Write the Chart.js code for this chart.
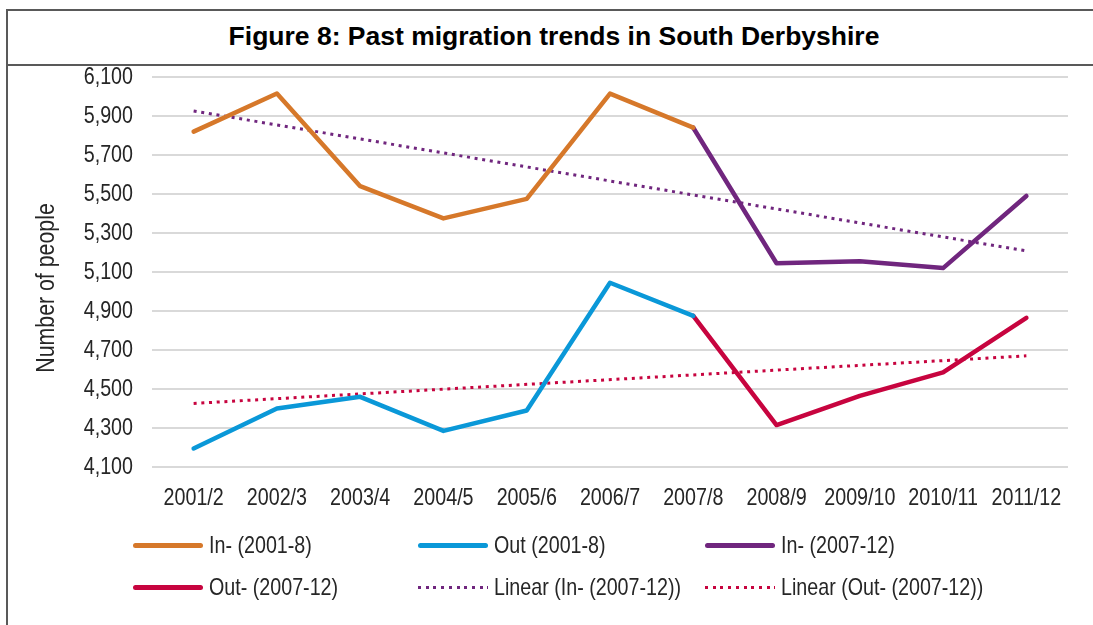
<!DOCTYPE html>
<html>
<head>
<meta charset="utf-8">
<script src="https://cdn.jsdelivr.net/npm/chart.js@4/dist/chart.umd.min.js"></script>
<style>
  body { margin: 0; background: #fff; width: 1093px; height: 625px; overflow: hidden; position: relative; }
  #frame { position: absolute; left: 6px; top: 9px; width: 1096px; height: 700px; border: 2px solid #595959; box-sizing: border-box; }
  #titlebar { position: absolute; left: 0; top: 0; width: 100%; height: 55px; border-bottom: 2px solid #595959; box-sizing: border-box; }
  #title { position: absolute; left: 6px; width: 1096px; top: 21px; line-height: 30px; text-align: center;
           font: bold 26.5px "Liberation Sans", Arial, sans-serif; color: #000; white-space: nowrap; }
  #wrap { position: absolute; left: 0; top: 0; width: 1093px; height: 625px; }
  .leg { position: absolute; height: 30px; display: flex; align-items: center; white-space: nowrap; }
  .leg .sw { width: 70px; margin-right: 6px; flex: none; }
  .leg span { display: inline-block; transform: scaleX(0.82); transform-origin: left center;
              font: 24px "Liberation Sans", Arial, sans-serif; color: #262626; line-height: 30px; }
</style>
</head>
<body>
<div id="frame"><div id="titlebar"></div></div>
<div id="title">Figure 8: Past migration trends in South Derbyshire</div>
<div id="wrap"><canvas id="chart" width="1093" height="625"></canvas></div>
<div id="legend"></div>
<script>
// Kategorier (år)
const years = ['2001/2', '2002/3', '2003/4', '2004/5', '2005/6', '2006/7', '2007/8', '2008/9', '2009/10', '2010/11', '2011/12'];

// Inflyttning / utflyttning
const inEarly  = [5820, 6015, 5540, 5375, 5475, 6015, 5840, null, null, null, null];
const outEarly = [4195, 4400, 4460, 4285, 4390, 5045, 4875, null, null, null, null];
const inLate   = [null, null, null, null, null, null, 5840, 5145, 5155, 5120, 5490];
const outLate  = [null, null, null, null, null, null, 4875, 4315, 4465, 4585, 4865];

// Trendlinjer (bara ändpunkter)
const trendIn  = [5926, null, null, null, null, null, null, null, null, null, 5208];
const trendOut = [4426, null, null, null, null, null, null, null, null, null, 4670];

// Y-axel
const yMin = 4100;
const yMax = 6100;
const yStep = 200;

const seriesNames = ['In- (2001-8)', 'Out (2001-8)', 'In- (2007-12)', 'Out- (2007-12)', 'Linear (In- (2007-12))', 'Linear (Out- (2007-12))'];

const ORANGE = '#D6782A';
const BLUE = '#0A98D8';
const PURPLE = '#70267E';
const RED = '#C7043F';
const TEXT = '#262626';
const FONT = '"Liberation Sans", Arial, sans-serif';
const SQUEEZE = 0.82; // smal text som i originalet

function solid(label, data, color) {
    return {
        label, data,
        borderColor: color, backgroundColor: color,
        borderWidth: 4.5, pointRadius: 0, tension: 0,
        borderJoinStyle: 'round', borderCapStyle: 'round',
        spanGaps: false
    };
}

function dotted(label, data, color) {
    return {
        label, data,
        borderColor: color, backgroundColor: color,
        borderWidth: 3, pointRadius: 0, tension: 0,
        borderDash: [3, 4.7], borderCapStyle: 'butt',
        spanGaps: true
    };
}

// Rita smal text (horisontellt ihoptryckt)
function narrowText(ctx, text, x, y, align, size, rotate) {
    ctx.save();
    ctx.translate(x, y);
    if (rotate) ctx.rotate(rotate);
    ctx.scale(SQUEEZE, 1);
    ctx.font = size + 'px ' + FONT;
    ctx.fillStyle = TEXT;
    ctx.textAlign = align;
    ctx.textBaseline = 'middle';
    ctx.fillText(text, 0, 0);
    ctx.restore();
}

// Axeltexter ritas för hand, positioner från bibliotekets skalor
const axisTextPlugin = {
    id: 'axisText',
    afterDraw(chart) {
        const ctx = chart.ctx;
        const xs = chart.scales.x;
        const ys = chart.scales.y;
        ys.ticks.forEach(t => {
            narrowText(ctx, t.value.toLocaleString('en-GB'), 133, ys.getPixelForValue(t.value), 'right', 24);
        });
        chart.data.labels.forEach((lab, i) => {
            narrowText(ctx, lab, xs.getPixelForValue(i), 498, 'center', 24);
        });
        narrowText(ctx, 'Number of people', 47, 288, 'center', 26, -Math.PI / 2);
    }
};

const ctx = document.getElementById('chart').getContext('2d');
const chart = new Chart(ctx, {
    type: 'line',
    data: {
        labels: years,
        datasets: [
            solid(seriesNames[0], inEarly, ORANGE),
            solid(seriesNames[1], outEarly, BLUE),
            solid(seriesNames[2], inLate, PURPLE),
            solid(seriesNames[3], outLate, RED),
            dotted(seriesNames[4], trendIn, PURPLE),
            dotted(seriesNames[5], trendOut, RED)
        ]
    },
    options: {
        responsive: false,
        animation: false,
        layout: { padding: { top: 77, right: 25, left: 0, bottom: 0 } },
        plugins: {
            legend: { display: false },
            tooltip: { enabled: false }
        },
        scales: {
            x: {
                offset: true,
                grid: { display: false, drawTicks: false },
                border: { display: false },
                ticks: { display: false, autoSkip: false },
                afterFit(scale) { scale.height = 158; }
            },
            y: {
                min: yMin,
                max: yMax,
                grid: { color: '#D9D9D9', lineWidth: 2, drawTicks: false },
                border: { display: false },
                ticks: { display: false, stepSize: yStep },
                afterFit(scale) { scale.width = 152; }
            }
        }
    },
    plugins: [axisTextPlugin]
});

// Förklaring i tre kolumner, byggd från datamängderna
const legendCols = [133, 418, 705];
const legendRows = [545, 587];
const legendEl = document.getElementById('legend');
chart.data.datasets.forEach((ds, i) => {
    const item = document.createElement('div');
    item.className = 'leg';
    item.style.left = legendCols[i % 3] + 'px';
    item.style.top = (legendRows[Math.floor(i / 3)] - 15) + 'px';
    const sw = document.createElement('div');
    sw.className = 'sw';
    if (ds.borderDash) {
        sw.style.height = '3px';
        sw.style.background = 'repeating-linear-gradient(90deg, ' + ds.borderColor + ' 0 3px, transparent 3px 7.7px)';
    } else {
        sw.style.height = '5px';
        sw.style.borderRadius = '3px';
        sw.style.background = ds.borderColor;
    }
    item.appendChild(sw);
    const txt = document.createElement('span');
    txt.textContent = ds.label;
    item.appendChild(txt);
    legendEl.appendChild(item);
});
</script>
</body>
</html>
